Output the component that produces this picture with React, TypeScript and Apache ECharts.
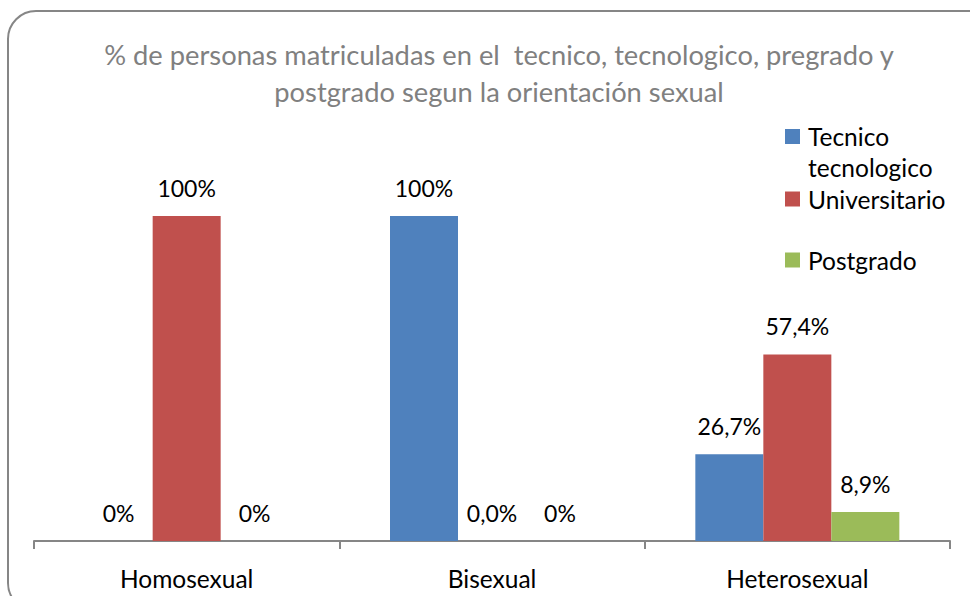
import React, { useEffect, useRef } from "react";
import * as echarts from "echarts";

const categories = ["Homosexual", "Bisexual", "Heterosexual"];
const seriesNames = ["Tecnico tecnologico", "Universitario", "Postgrado"];
const tecnicoValues = [0, 100, 26.7];
const universitarioValues = [100, 0, 57.4];
const postgradoValues = [0, 0, 8.9];
const tecnicoLabels = ["0%", "100%", "26,7%"];
const universitarioLabels = ["100%", "0,0%", "57,4%"];
const postgradoLabels = ["0%", "0%", "8,9%"];
const titleText =
  "% de personas matriculadas en el  tecnico, tecnologico, pregrado y\npostgrado segun la orientación sexual";

const colors = ["#4F81BD", "#C0504D", "#9BBB59"];
const FONT = "Lato, 'Liberation Sans', sans-serif";

export default function App() {
  const ref = useRef<HTMLDivElement>(null);
  useEffect(() => {
    if (!ref.current) return;
    const chart = echarts.init(ref.current, undefined, { renderer: "svg" });
    const labelSets = [tecnicoLabels, universitarioLabels, postgradoLabels];
    const valueSets = [tecnicoValues, universitarioValues, postgradoValues];
    const legendTops = [90, 183.5, 244.5];
    chart.setOption({
      animation: false,
      backgroundColor: "#ffffff",
      textStyle: { fontFamily: FONT },
      title: {
        text: titleText,
        left: 494,
        top: 31,
        textAlign: "center",
        textStyle: {
          fontFamily: FONT,
          fontSize: 27.3,
          fontWeight: "normal",
          color: "#808080",
          lineHeight: 37,
        },
      },
      legend: seriesNames.map((name, i) => ({
        data: [name],
        orient: "vertical",
        left: 785,
        top: legendTops[i],
        padding: 0,
        itemWidth: 15,
        itemHeight: 15,
        icon: "rect",
        selectedMode: false,
        formatter: (n: string) => (n === "Tecnico tecnologico" ? "\nTecnico\ntecnologico" : n),
        textStyle: {
          fontFamily: FONT,
          fontSize: 24.5,
          color: "#000000",
          lineHeight: 31,
          padding: [0, 0, 0, 3],
        },
      })),
      grid: { left: 34, right: 20, top: 216, bottom: 55, containLabel: false },
      xAxis: {
        type: "category",
        data: categories,
        axisLine: { show: true, lineStyle: { color: "#868686", width: 2 } },
        axisTick: { show: true, length: 8, inside: false, lineStyle: { color: "#868686", width: 2 } },
        axisLabel: { color: "#000000", fontSize: 24.5, fontFamily: FONT, margin: 25 },
      },
      yAxis: {
        type: "value",
        min: 0,
        max: 100,
        show: false,
        splitLine: { show: false },
      },
      series: seriesNames.map((name, i) => ({
        name,
        type: "bar",
        data: valueSets[i],
        barWidth: 68,
        barGap: "0%",
        itemStyle: { color: colors[i] },
        label: {
          show: true,
          position: "top",
          distance: 17,
          color: "#000000",
          fontSize: 23,
          fontFamily: FONT,
          formatter: (p: any) => labelSets[i][p.dataIndex],
        },
      })),
      graphic: [
        {
          type: "rect",
          shape: { x: 8, y: 11, width: 995, height: 600, r: 28 },
          style: { fill: "none", stroke: "#868686", lineWidth: 2 },
          z: 100,
          silent: true,
        },
      ],
    });
    return () => chart.dispose();
  }, []);
  return (
    <div
      ref={ref}
      style={{ position: "fixed", left: 0, top: 0, width: 970, height: 596 }}
    />
  );
}
